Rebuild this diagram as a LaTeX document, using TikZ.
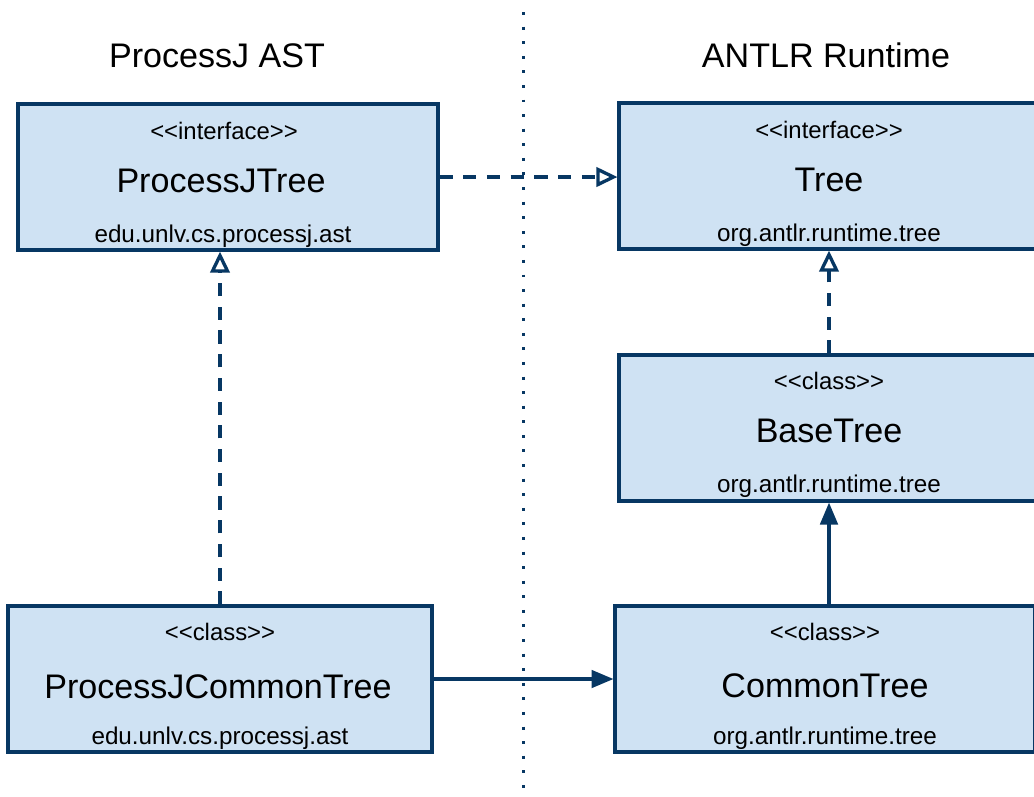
\documentclass[tikz,border=0pt]{standalone}
\usepackage{fontspec}
\setmainfont{Liberation Sans}
\usetikzlibrary{arrows.meta,calc}
\definecolor{umlblue}{RGB}{7,55,99}
\definecolor{umlfill}{RGB}{207,226,243}

\begin{document}
\begin{tikzpicture}[x=0.02cm, y=-0.02cm, umlblue,
    box/.style={draw=umlblue, line width=1.8pt, fill=umlfill, minimum width=8.4cm, minimum height=2.92cm, inner sep=0pt},
    stereo/.style={black, anchor=base, inner sep=0pt, font=\fontsize{13.6}{16}\selectfont},
    classname/.style={black, anchor=base, inner sep=0pt, font=\fontsize{19.4}{23}\selectfont},
    pkg/.style={black, anchor=base, inner sep=0pt, font=\fontsize{13.8}{16}\selectfont},
    title/.style={black, anchor=base, inner sep=0pt, font=\fontsize{19.4}{23}\selectfont},
    dep/.style={line width=1.9pt, dash pattern=on 7.5pt off 6pt, -{Triangle[open, length=12pt, width=11pt]}},
    inh/.style={line width=1.8pt, -{Triangle[length=12.5pt, width=10pt]}}
]
    \useasboundingbox (0,0) rectangle (1034,796);
    \clip (0,0) rectangle (1034,796);

    % divider
    \coordinate (divtop) at (523,12);
    \coordinate (divbot) at (523,796);
    \draw[line width=1.7pt, dash pattern=on 1.7pt off 6.6pt] (divtop) -- (divbot);

    \node[title] (lefttitle) at (217,67) {ProcessJ AST};
    \node[title] (righttitle) at (826,67) {ANTLR Runtime};

    % boxes
    \node[box] (pjtree) at (228,177) {};
    \node[box] (tree) at (829,176) {};
    \node[box] (basetree) at (829,428) {};
    \node[box, minimum width=8.48cm] (pjcommon) at (220,679) {};
    \node[box] (commontree) at (825,679) {};

    % texts
    \node[stereo] (pjtree-st) at ($(pjtree.north)+(-4,37)$) {<{}<interface>{}>};
    \node[classname] (pjtree-nm) at ($(pjtree.north)+(-7,90)$) {ProcessJTree};
    \node[pkg] (pjtree-pk) at ($(pjtree.north)+(-5,140)$) {edu.unlv.cs.processj.ast};

    \node[stereo] (tree-st) at ($(tree.north)+(0,37)$) {<{}<interface>{}>};
    \node[classname] (tree-nm) at ($(tree.north)+(0,90)$) {Tree};
    \node[pkg] (tree-pk) at ($(tree.north)+(0,140)$) {org.antlr.runtime.tree};

    \node[stereo] (basetree-st) at ($(basetree.north)+(0,36)$) {<{}<class>{}>};
    \node[classname] (basetree-nm) at ($(basetree.north)+(0,89)$) {BaseTree};
    \node[pkg] (basetree-pk) at ($(basetree.north)+(0,139)$) {org.antlr.runtime.tree};

    \node[stereo] (pjcommon-st) at ($(pjcommon.north)+(0,36)$) {<{}<class>{}>};
    \node[classname] (pjcommon-nm) at ($(pjcommon.north)+(-2,94)$) {ProcessJCommonTree};
    \node[pkg] (pjcommon-pk) at ($(pjcommon.north)+(0,140)$) {edu.unlv.cs.processj.ast};

    \node[stereo] (commontree-st) at ($(commontree.north)+(0,36)$) {<{}<class>{}>};
    \node[classname] (commontree-nm) at ($(commontree.north)+(0,93)$) {CommonTree};
    \node[pkg] (commontree-pk) at ($(commontree.north)+(0,140)$) {org.antlr.runtime.tree};

    % relations
    \draw[dep] (pjtree.east) -- (pjtree.east -| tree.west);
    \draw[dep] (pjcommon.north) -- (pjcommon.north |- pjtree.south);
    \draw[dep] (basetree.north) -- (tree.south);
    \draw[inh] (basetree.south |- commontree.north) -- (basetree.south);
    \draw[inh] (pjcommon.east) -- (pjcommon.east -| commontree.west);

\end{tikzpicture}
\end{document}
